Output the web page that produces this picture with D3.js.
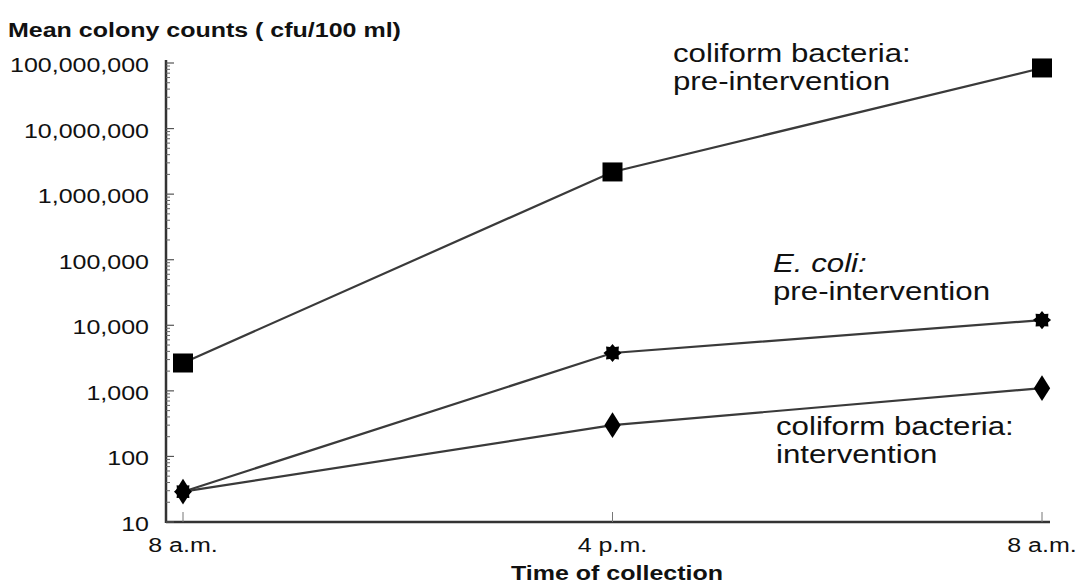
<!DOCTYPE html>
<html lang="en">
<head>
  <meta charset="UTF-8">
  <title>Mean colony counts</title>
  <style>
    body { margin: 0; background: #fff; }
    text { font-family: "Liberation Sans", Arial, Helvetica, sans-serif; fill: #111; }
  </style>
</head>
<body>
  <svg></svg>
  <script src="https://cdn.jsdelivr.net/npm/d3@7"></script>
  <script>
    // 数据
    var times = ["8 a.m.", "4 p.m.", "8 a.m. "];
    var coliformPre = [2660, 2180000, 84000000];
    var ecoliPre = [29, 3780, 12000];
    var coliformInt = [29, 300, 1100];
    var yTicks = [10, 100, 1000, 10000, 100000, 1000000, 10000000, 100000000];

    var width = 1078, height = 587;
    var stretch = 1.25; // 原图文字横向被拉宽
    var svg = d3.select("svg")
      .attr("width", width)
      .attr("height", height);

    var x = d3.scalePoint()
      .domain(times)
      .range([183, 1042]);
    var y = d3.scaleLog()
      .domain([10, 100000000])
      .range([522, 63]);

    var axisLeft = 166, axisBottom = 522;

    // 拉宽的文字
    function stext(xp, yp, str, size, anchor) {
      return svg.append("text")
        .attr("transform", `translate(${xp},${yp}) scale(${stretch},1)`)
        .attr("font-size", size + "px")
        .attr("text-anchor", anchor || "start")
        .text(str);
    }

    // 坐标轴
    svg.append("line")
      .attr("x1", axisLeft).attr("x2", axisLeft)
      .attr("y1", 60).attr("y2", axisBottom + 1)
      .attr("stroke", "#333").attr("stroke-width", 2.5);
    svg.append("line")
      .attr("x1", axisLeft).attr("x2", 1050)
      .attr("y1", axisBottom).attr("y2", axisBottom)
      .attr("stroke", "#333").attr("stroke-width", 2.5);

    // 小刻度
    var minor = [];
    yTicks.slice(0, -1).forEach(function (t) {
      for (var k = 2; k <= 9; k++) minor.push(t * k);
    });
    svg.append("g").selectAll("line")
      .data(minor)
      .join("line")
      .attr("x1", axisLeft).attr("x2", axisLeft + 4)
      .attr("y1", d => y(d)).attr("y2", d => y(d))
      .attr("stroke", "#666").attr("stroke-width", 1);

    // 大刻度
    var fmt = d3.format(",");
    svg.append("g").selectAll("line")
      .data(yTicks)
      .join("line")
      .attr("x1", axisLeft).attr("x2", axisLeft + 8)
      .attr("y1", d => y(d)).attr("y2", d => y(d))
      .attr("stroke", "#555").attr("stroke-width", 1.2);
    yTicks.forEach(function (t) {
      stext(149, y(t) + 9, fmt(t), 20, "end");
    });

    // x 刻度
    svg.append("g").selectAll("line")
      .data(times)
      .join("line")
      .attr("x1", d => x(d)).attr("x2", d => x(d))
      .attr("y1", axisBottom - 10).attr("y2", axisBottom)
      .attr("stroke", "#777").attr("stroke-width", 1);
    times.forEach(function (t) {
      stext(x(t), 552, t.trim(), 20, "middle");
    });

    stext(8, 37, "Mean colony counts ( cfu/100 ml)", 20).attr("font-weight", "bold");
    stext(617, 580, "Time of collection", 20, "middle").attr("font-weight", "bold");

    // 折线
    var line = d3.line()
      .x((d, i) => x(times[i]))
      .y(d => y(d));
    [coliformPre, ecoliPre, coliformInt].forEach(function (s) {
      svg.append("path")
        .datum(s)
        .attr("d", line)
        .attr("fill", "none")
        .attr("stroke", "#3a3a3a")
        .attr("stroke-width", 2.2);
    });

    // 标记
    svg.append("g").selectAll("rect")
      .data(coliformPre)
      .join("rect")
      .attr("x", (d, i) => x(times[i]) - 10)
      .attr("y", d => y(d) - 9.5)
      .attr("width", 20).attr("height", 19)
      .attr("fill", "#000");

    // 八角星
    var star8 = {
      draw: function (ctx, size) {
        var r = Math.sqrt(size) / 2, ri = r * 0.72;
        for (var k = 0; k < 16; k++) {
          var a = Math.PI * k / 8 - Math.PI / 2;
          var rr = k % 2 ? ri : r;
          if (k === 0) ctx.moveTo(rr * Math.cos(a), rr * Math.sin(a));
          else ctx.lineTo(rr * Math.cos(a), rr * Math.sin(a));
        }
        ctx.closePath();
      }
    };
    var diamond = d3.symbol().type(d3.symbolDiamond).size(190);
    svg.append("g").selectAll("path")
      .data(coliformInt)
      .join("path")
      .attr("d", diamond)
      .attr("transform", (d, i) => `translate(${x(times[i])},${y(d)}) scale(1.1,1)`)
      .attr("fill", "#000");
    svg.append("g").selectAll("path")
      .data(ecoliPre)
      .join("path")
      .attr("d", d3.symbol().type(star8).size(330))
      .attr("transform", (d, i) => `translate(${x(times[i])},${y(d)})`)
      .attr("fill", "#000");

    // 系列标签
    function label(xp, yp, lines, italicFirst) {
      lines.forEach(function (s, i) {
        var t = stext(xp, yp + i * 28, s, 25);
        if (i === 0 && italicFirst) t.attr("font-style", "italic");
      });
    }
    label(673, 62, ["coliform bacteria:", "pre-intervention"], false);
    label(773, 272, ["E. coli:", "pre-intervention"], true);
    label(776, 435, ["coliform bacteria:", "intervention"], false);
  </script>
</body>
</html>
